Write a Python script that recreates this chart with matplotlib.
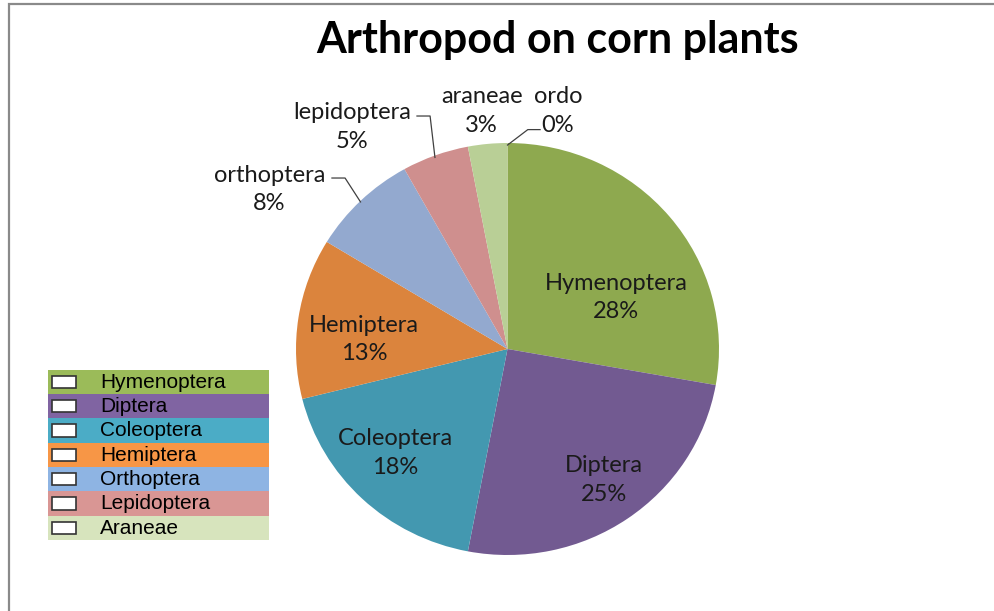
import matplotlib.pyplot as plt
from matplotlib.patches import Rectangle

# data (percent of arthropods)
orders = ['Hymenoptera', 'Diptera', 'Coleoptera', 'Hemiptera',
          'orthoptera', 'lepidoptera', 'araneae', 'ordo']
share = [27.8, 25.2, 18.1, 12.6, 8.2, 5.1, 3.0, 0.0]
pie_colors = ['#8ea94f', '#725a91', '#4398b0', '#db843d',
              '#93a9cf', '#cf8f8e', '#b9cf96', '#b9cf96']

legend_names = ['Hymenoptera', 'Diptera', 'Coleoptera', 'Hemiptera',
                'Orthoptera', 'Lepidoptera', 'Araneae']
legend_colors = ['#9bbb59', '#8064a2', '#4bacc6', '#f79646',
                 '#8eb4e3', '#d99694', '#d7e4bd']

W, H = 995, 611
fig = plt.figure(figsize=(W / 100, H / 100), dpi=100)

# pie axes: centre (507.5, 349) px, slightly squashed like the original
cx, cy, rx, ry = 507.5, 349, 211.5, 206
ax = fig.add_axes([(cx - rx) / W, (H - cy - ry) / H, 2 * rx / W, 2 * ry / H])
ax.pie(share, colors=pie_colors, startangle=90, counterclock=False,
       radius=1, wedgeprops=dict(linewidth=0))
ax.set_xlim(-1, 1)
ax.set_ylim(-1, 1)
ax.set_aspect('auto')
ax.axis('off')

# label positions (pie units) and leader lines
label_pos = [(0.513, 0.25), (0.454, -0.637), (-0.529, -0.505), (-0.678, 0.046),
             (-1.125, 0.775), (-0.733, 1.077), (-0.122, 1.156), (0.238, 1.156)]
leaders = {4: [(-0.830, 0.830), (-0.768, 0.830), (-0.695, 0.714)],
           5: [(-0.428, 1.131), (-0.366, 1.131), (-0.343, 0.93)],
           7: [(0.154, 1.065), (0.096, 1.065), (0.0, 0.99)]}

lab_font = dict(family='Lato', fontsize=17, color='#1a1a1a',
                ha='center', va='center', linespacing=1.45)
for i, (name, v) in enumerate(zip(orders, share)):
    x, y = label_pos[i]
    ax.text(x, y, f"{name}\n{v:.0f}%", clip_on=False, **lab_font)
    if i in leaders:
        xs, ys = zip(*leaders[i])
        ax.plot(xs, ys, color='#404040', lw=0.9, clip_on=False)

fig.text(558 / W, 1 - 40 / H, 'Arthropod on corn plants', family='Lato',
         fontweight='bold', fontsize=31, ha='center', va='center')

# legend: coloured rows with white boxes
lx0, ly0, lx1, ly1 = 48, 369.5, 269, 540
lax = fig.add_axes([lx0 / W, (H - ly1) / H, (lx1 - lx0) / W, (ly1 - ly0) / H])
n = len(legend_names)
rh = (ly1 - ly0) / n
lax.set_xlim(0, lx1 - lx0)
lax.set_ylim(ly1 - ly0, 0)
lax.axis('off')
for i, (name, c) in enumerate(zip(legend_names, legend_colors)):
    lax.add_patch(Rectangle((0, i * rh), lx1 - lx0, rh, facecolor=c, edgecolor='none'))
    lax.add_patch(Rectangle((4, i * rh + 6), 24, 12.5, facecolor='white',
                            edgecolor='#333333', lw=1.2))
    lax.text(52, i * rh + rh / 2 + 0.5, name, family='Liberation Sans',
             fontsize=15, va='center', ha='left', color='black')

# chart area border (cut off on right and bottom)
fig.add_artist(Rectangle((9 / W, -0.1), 1.2, 1.1 - 4 / H, transform=fig.transFigure,
                         fill=False, edgecolor='#8a8a8a', lw=1.6))

fig.savefig('out.png', dpi=100)
